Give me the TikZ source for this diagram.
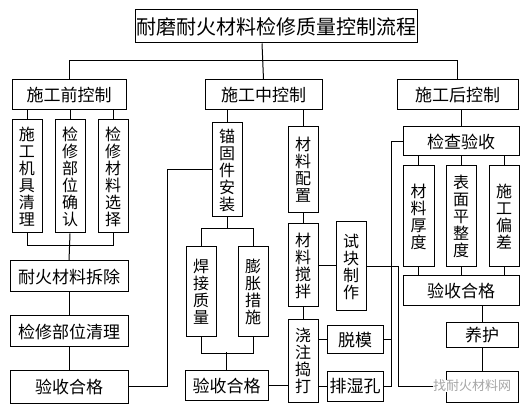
\documentclass[tikz,border=0pt]{standalone}
\usepackage{fontspec}
\setmainfont{Noto Sans CJK SC}

\begin{document}
\begin{tikzpicture}[x=1pt,y=-1pt,line width=1pt,
  wh/.style 2 args={minimum width=#1pt,minimum height=#2pt},
  box/.style={draw,inner sep=1pt,font=\fontsize{17}{20}\selectfont},
  vbox/.style={box,align=center,font=\fontsize{16}{17}\selectfont}]
\useasboundingbox (0,0) rectangle (530,411);

\node[box,wh={256}{33},font=\fontsize{20}{24}\selectfont] (title) at (276,26.5) {耐磨耐火材料检修质量控制流程};
\node[box,wh={114}{30}] (pre) at (69,95) {施工前控制};
\node[box,wh={117}{30}] (mid) at (263.5,95) {施工中控制};
\node[box,wh={121}{30}] (post) at (457.5,95) {施工后控制};

\node[vbox,wh={30}{113}] (a1) at (27,176.5) {施\\工\\机\\具\\清\\理};
\node[vbox,wh={30}{113}] (a2) at (70,176.5) {检\\修\\部\\位\\确\\认};
\node[vbox,wh={30}{113}] (a3) at (113,176.5) {检\\修\\材\\料\\选\\择};
\node[box,wh={118}{31}] (a4) at (69,276.5) {耐火材料拆除};
\node[box,wh={118}{31}] (a5) at (69,331.5) {检修部位清理};
\node[box,wh={118}{32}] (a6) at (69,387) {验收合格};

\node[vbox,wh={30}{94}] (b1) at (227,170) {锚\\固\\件\\安\\装};
\node[vbox,wh={30}{86}] (b2) at (303,170) {材\\料\\配\\置};
\node[vbox,wh={30}{90}] (b3) at (201,292) {焊\\接\\质\\量};
\node[vbox,wh={30}{90}] (b4) at (253,292) {膨\\胀\\措\\施};
\node[box,wh={83}{29}] (b5) at (226.5,385.5) {验收合格};
\node[vbox,wh={30}{83}] (b6) at (303,265.5) {材\\料\\搅\\拌};
\node[vbox,wh={30}{89}] (b7) at (351,266.5) {试\\块\\制\\作};
\node[vbox,wh={30}{82}] (b8) at (303,361) {浇\\注\\捣\\打};
\node[box,wh={56}{28}] (b9) at (355,340) {脱模};
\node[box,wh={56}{29}] (b10) at (355,386.5) {排湿孔};

\node[box,wh={116}{29}] (c1) at (461,141.5) {检查验收};
\node[vbox,wh={31}{101}] (c2) at (418.5,216.5) {材\\料\\厚\\度};
\node[vbox,wh={30}{101}] (c3) at (461,216.5) {表\\面\\平\\整\\度};
\node[vbox,wh={30}{101}] (c4) at (504,216.5) {施\\工\\偏\\差};
\node[box,wh={116}{30}] (c5) at (461,291) {验收合格};
\node[box,wh={72}{25}] (c6) at (482,335.5) {养护};
\node[box,wh={72}{30}] (c7) at (482,387) {};

\draw ([xshift=-14pt]title.south) -- (mid.north);
\draw (pre.north) -- ++(0,-19) -| (post.north);

\foreach \n in {a1,a2,a3} \draw (\n.north) -- (\n.north |- pre.south);
\draw (a1.south) -- ++(0,12) -| (a3.south);
\draw (a2.south) -- (a4.north);
\draw (a4) -- (a5) -- (a6);
\draw (a6.east) -- ++(39,0) |- (b1.west);

\foreach \n in {b1,b2} \draw (\n.north) -- (\n.north |- mid.south);
\draw (b3.north) -- ++(0,-18) -| (b4.north);
\draw (b1.south) -- ++(0,12);
\draw (b3.south) -- ++(0,16) -| (b4.south);
\draw (b5.north) -- ++(0,-18);
\draw (b5.east) -- (b5.east -| b8.west);
\draw (b2) -- (b6) -- (b8);
\draw (b6.east) -- (b6.east -| b7.west);
\draw (b9.west) -- (b9.west -| b8.east);
\draw (b10.west) -- (b10.west -| b8.east);
\draw (c1.west) -- ++(-11,0) coordinate (k) |- (b10.east);
\draw (b9.east) -- (b9.east -| k);
\draw (b7.east) -- ++(32,0) |- (c7.west);

\draw (c1.north) -- (c1.north |- post.south);
\foreach \n in {c2,c3,c4} {
  \draw (\n.north) -- (\n.north |- c1.south);
  \draw (\n.south) -- (\n.south |- c5.north);
}
\draw (c6.north) -- (c6.north |- c5.south);
\draw (c6) -- (c7);

\node[fill=white,inner sep=0pt,text=gray!70,font=\fontsize{13}{15}\selectfont] (wm) at (472,386) {找耐火材料网};
\end{tikzpicture}
\end{document}
